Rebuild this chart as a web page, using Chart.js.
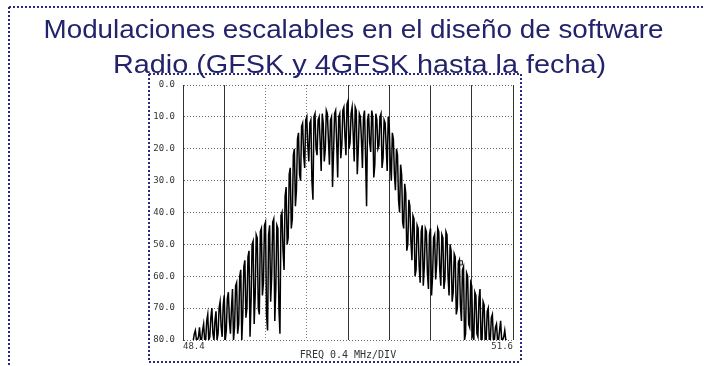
<!DOCTYPE html>
<html>
<head>
<meta charset="utf-8">
<script src="https://cdn.jsdelivr.net/npm/chart.js@4/dist/chart.umd.min.js"></script>
<style>
    html, body { margin: 0; padding: 0; background: #fff; }
    canvas { display: block; }
</style>
</head>
<body>
<canvas id="chart-spectrum" width="704" height="366"></canvas>
<script>
// ---------------------------------------- DATA ----------------------------------------
const titleLines = ['Modulaciones escalables en el diseño de software', 'Radio (GFSK y 4GFSK hasta la fecha)'];
const yTickLabels = ['0.0', '10.0', '20.0', '30.0', '40.0', '50.0', '60.0', '70.0', '80.0'];
const xTickLabels = ['48.4', '51.6'];
const xAxisLabel = 'FREQ 0.4 MHz/DIV';

// frequency of each sweep point (MHz)
const freq = [
    48.50, 48.51, 48.52, 48.53, 48.54, 48.55, 48.56, 48.57, 48.58, 48.59, 48.60, 48.61, 48.62, 48.63, 48.64, 48.65, 48.66, 48.67, 48.68, 48.69,
    48.70, 48.71, 48.72, 48.73, 48.74, 48.75, 48.76, 48.77, 48.78, 48.79, 48.80, 48.81, 48.82, 48.83, 48.84, 48.85, 48.86, 48.87, 48.88, 48.89,
    48.90, 48.91, 48.92, 48.93, 48.94, 48.95, 48.96, 48.97, 48.98, 48.99, 49.00, 49.01, 49.02, 49.03, 49.04, 49.05, 49.06, 49.07, 49.08, 49.09,
    49.10, 49.11, 49.12, 49.13, 49.14, 49.15, 49.16, 49.17, 49.18, 49.19, 49.20, 49.21, 49.22, 49.23, 49.24, 49.25, 49.26, 49.27, 49.28, 49.29,
    49.30, 49.31, 49.32, 49.33, 49.34, 49.35, 49.36, 49.37, 49.38, 49.39, 49.40, 49.41, 49.42, 49.43, 49.44, 49.45, 49.46, 49.47, 49.48, 49.49,
    49.50, 49.51, 49.52, 49.53, 49.54, 49.55, 49.56, 49.57, 49.58, 49.59, 49.60, 49.61, 49.62, 49.63, 49.64, 49.65, 49.66, 49.67, 49.68, 49.69,
    49.70, 49.71, 49.72, 49.73, 49.74, 49.75, 49.76, 49.77, 49.78, 49.79, 49.80, 49.81, 49.82, 49.83, 49.84, 49.85, 49.86, 49.87, 49.88, 49.89,
    49.90, 49.91, 49.92, 49.93, 49.94, 49.95, 49.96, 49.97, 49.98, 49.99, 50.00, 50.01, 50.02, 50.03, 50.04, 50.05, 50.06, 50.07, 50.08, 50.09,
    50.10, 50.11, 50.12, 50.13, 50.14, 50.15, 50.16, 50.17, 50.18, 50.19, 50.20, 50.21, 50.22, 50.23, 50.24, 50.25, 50.26, 50.27, 50.28, 50.29,
    50.30, 50.31, 50.32, 50.33, 50.34, 50.35, 50.36, 50.37, 50.38, 50.39, 50.40, 50.41, 50.42, 50.43, 50.44, 50.45, 50.46, 50.47, 50.48, 50.49,
    50.50, 50.51, 50.52, 50.53, 50.54, 50.55, 50.56, 50.57, 50.58, 50.59, 50.60, 50.61, 50.62, 50.63, 50.64, 50.65, 50.66, 50.67, 50.68, 50.69,
    50.70, 50.71, 50.72, 50.73, 50.74, 50.75, 50.76, 50.77, 50.78, 50.79, 50.80, 50.81, 50.82, 50.83, 50.84, 50.85, 50.86, 50.87, 50.88, 50.89,
    50.90, 50.91, 50.92, 50.93, 50.94, 50.95, 50.96, 50.97, 50.98, 50.99, 51.00, 51.01, 51.02, 51.03, 51.04, 51.05, 51.06, 51.07, 51.08, 51.09,
    51.10, 51.11, 51.12, 51.13, 51.14, 51.15, 51.16, 51.17, 51.18, 51.19, 51.20, 51.21, 51.22, 51.23, 51.24, 51.25, 51.26, 51.27, 51.28, 51.29,
    51.30, 51.31, 51.32, 51.33, 51.34, 51.35, 51.36, 51.37, 51.38, 51.39, 51.40, 51.41, 51.42, 51.43, 51.44, 51.45, 51.46, 51.47, 51.48, 51.49,
    51.50, 51.51, 51.52, 51.53, 51.54
];

// level below reference (dB)
const level = [
    80, 78, 77, 80, 80, 79, 76, 80, 80, 77, 75, 80, 80, 74, 72, 80, 79, 73, 70, 78,
    80, 74, 71, 80, 78, 70, 68, 76, 79, 69, 66, 80, 77, 67, 65, 74, 78, 70, 64, 80,
    76, 63, 62, 78, 75, 60, 58, 80, 72, 57, 55, 73, 70, 54, 52, 79, 68, 50, 49, 75,
    66, 47, 48, 70, 72, 46, 45, 66, 62, 44, 43, 72, 77, 47, 44, 68, 60, 43, 42, 74,
    64, 44, 45, 70, 78, 41, 40, 52, 58, 35, 32, 50, 48, 28, 26, 45, 42, 22, 20, 38,
    33, 17, 15, 28, 30, 13, 12, 22, 26, 11, 10, 19, 24, 12, 11, 30, 36, 10, 9, 20,
    22, 11, 10, 18, 27, 9, 12, 24, 20, 8, 9, 17, 25, 11, 10, 32, 21, 9, 8, 18,
    29, 10, 9, 23, 19, 8, 7, 16, 22, 6, 5, 20, 18, 9, 7, 15, 24, 7, 8, 28,
    20, 9, 10, 17, 26, 10, 8, 22, 38, 11, 9, 18, 21, 8, 10, 29, 25, 9, 11, 20,
    19, 10, 9, 26, 23, 11, 12, 19, 27, 10, 13, 24, 30, 15, 17, 28, 33, 20, 22, 36,
    40, 25, 28, 43, 45, 31, 34, 52, 50, 36, 38, 49, 55, 41, 42, 60, 58, 44, 45, 57,
    62, 46, 44, 63, 57, 45, 46, 59, 64, 47, 45, 66, 60, 48, 47, 61, 56, 45, 46, 58,
    63, 47, 48, 64, 61, 46, 47, 60, 66, 50, 52, 68, 65, 53, 54, 72, 70, 56, 55, 69,
    74, 58, 57, 80, 78, 59, 60, 75, 76, 62, 63, 79, 80, 65, 66, 78, 79, 67, 64, 80,
    80, 68, 69, 80, 80, 71, 70, 80, 80, 73, 72, 80, 80, 76, 75, 80, 80, 77, 74, 80,
    80, 79, 77, 80, 80
];

// marker box on the right skirt
const markerFreq = [51.09];
const markerLevel = [55.8];

// ---------------------------------------- CHART ----------------------------------------
const navy = '#23236b';

function dottedLine(ctx, x1, y1, x2, y2) {
    ctx.beginPath();
    ctx.moveTo(x1, y1);
    ctx.lineTo(x2, y2);
    ctx.stroke();
}

// slide frame and heading drawn behind the plot
const slidePlugin = {
    id: 'slide',
    beforeDraw(chart) {
        const ctx = chart.ctx;
        ctx.save();
        ctx.fillStyle = '#fff';
        ctx.fillRect(0, 0, chart.width, chart.height);

        ctx.strokeStyle = '#2a2a80';
        ctx.lineWidth = 2;
        ctx.setLineDash([2, 2]);
        dottedLine(ctx, 9, 7, 704, 7);
        dottedLine(ctx, 9, 7, 9, 366);
        dottedLine(ctx, 149, 74, 521, 74);
        dottedLine(ctx, 149, 74, 149, 362);
        dottedLine(ctx, 521, 74, 521, 362);
        dottedLine(ctx, 149, 362, 521, 362);
        ctx.setLineDash([]);

        ctx.fillStyle = navy;
        ctx.font = '26px "Liberation Sans", Arial, sans-serif';
        ctx.textAlign = 'center';
        ctx.textBaseline = 'alphabetic';
        const pos = [[353.5, 38, 620], [359.5, 73, 493]];
        titleLines.forEach((t, i) => {
            const w = ctx.measureText(t).width;
            ctx.save();
            ctx.translate(pos[i][0], pos[i][1]);
            ctx.scale(pos[i][2] / w, 1);
            ctx.fillText(t, 0, 0);
            ctx.restore();
        });
        ctx.restore();
    }
};

const monoFont = '"DejaVu Sans Mono", "Liberation Mono", monospace';

var spectrum = document.getElementById('chart-spectrum').getContext('2d');
var chart_spectrum = new Chart(spectrum, {
    type: 'line',
    data: {
        datasets: [{
            label: 'trace',
            data: freq.map((f, i) => ({ x: f, y: level[i] })),
            borderColor: '#000',
            borderWidth: 1.5,
            pointRadius: 0,
            tension: 0,
            fill: false
        }, {
            label: 'marker',
            data: markerFreq.map((f, i) => ({ x: f, y: markerLevel[i] })),
            showLine: false,
            pointStyle: 'rect',
            pointRadius: 3,
            borderWidth: 1,
            borderColor: '#222',
            backgroundColor: '#ddd'
        }]
    },
    options: {
        responsive: false,
        animation: false,
        layout: { padding: { left: 149, right: 191, top: 85, bottom: 0 } },
        plugins: {
            legend: { display: false },
            tooltip: { enabled: false }
        },
        scales: {
            x: {
                type: 'linear',
                min: 48.4,
                max: 51.6,
                afterFit(scale) { scale.height = 26; },
                ticks: {
                    stepSize: 0.4,
                    align: 'inner',
                    maxRotation: 0,
                    autoSkip: false,
                    padding: 1,
                    color: '#333',
                    font: { family: monoFont, size: 9 },
                    callback: function (value, index, ticks) {
                        if (index === 0) return xTickLabels[0];
                        if (index === ticks.length - 1) return xTickLabels[1];
                        return '';
                    }
                },
                grid: {
                    drawTicks: false,
                    lineWidth: 1,
                    color: ctx => (ctx.index === 2 || ctx.index === 3) ? 'rgba(0,0,0,0)' : '#333'
                },
                border: { display: false },
                title: {
                    display: true,
                    text: xAxisLabel,
                    color: '#333',
                    font: { family: monoFont, size: 10 },
                    padding: { top: 0, bottom: 5 }
                }
            },
            xDots: {
                type: 'linear',
                position: 'bottom',
                min: 48.4,
                max: 51.6,
                afterFit(scale) { scale.height = 0; },
                ticks: { display: false, stepSize: 0.4 },
                grid: {
                    drawTicks: false,
                    lineWidth: 1,
                    color: ctx => (ctx.index === 2 || ctx.index === 3) ? '#777' : 'rgba(0,0,0,0)'
                },
                border: { display: false, dash: [1, 2] }
            },
            y: {
                min: 0,
                max: 80,
                reverse: true,
                afterFit(scale) { scale.width = 34; },
                ticks: {
                    stepSize: 10,
                    padding: 8,
                    color: '#333',
                    font: { family: monoFont, size: 9 },
                    // reversed scale: pick the label by value, not by index
                    callback: function (value) {
                        return yTickLabels[Math.round(value / 10)];
                    }
                },
                grid: {
                    drawTicks: false,
                    lineWidth: 1,
                    color: '#666'
                },
                border: { display: true, color: '#333', width: 1, dash: [1, 2] }
            }
        }
    },
    plugins: [slidePlugin]
});
</script>
</body>
</html>
